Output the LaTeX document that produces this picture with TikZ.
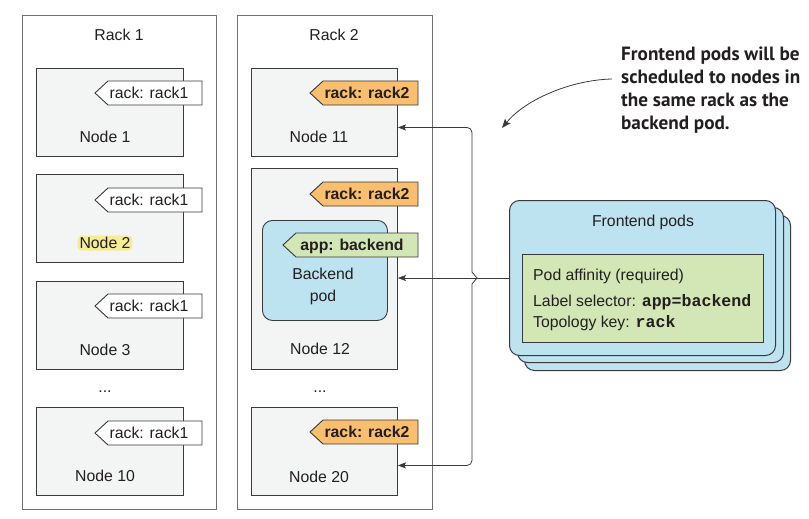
\documentclass[tikz,border=0pt]{standalone}
\usepackage{fontspec}
\setmainfont{Liberation Sans}
\setmonofont{Liberation Mono}
\newfontfamily\notefont{PT Sans}
\usetikzlibrary{arrows.meta}
\definecolor{nodefill}{HTML}{F3F4F4}
\definecolor{nodedraw}{HTML}{3A3A3A}
\definecolor{rackdraw}{HTML}{707070}
\definecolor{tagorange}{HTML}{F9BE6E}
\definecolor{taggreen}{HTML}{D3E6B5}
\definecolor{podblue}{HTML}{BDE2F0}
\definecolor{hlyellow}{HTML}{F5EC96}
\definecolor{txt}{HTML}{231F20}
\newcommand\codef{\fontsize{16.6}{18}\selectfont\ttfamily\bfseries}
\newcommand\tagat[7]{%
  \draw[#5] (#2,#4) -- ({#2+13},{#4-12}) -- (#3,{#4-12}) -- (#3,{#4+12}) -- ({#2+13},{#4+12}) -- cycle;
  \node[tagtext] (#1) at (#6,#4) {#7};}
\begin{document}
\begin{tikzpicture}[x=1pt,y=-1pt,
  font=\fontsize{15.8}{18}\selectfont, text=txt,
  rackbox/.style={draw=rackdraw, line width=0.9pt, fill=white, anchor=north west, inner sep=0},
  nodebox/.style={draw=nodedraw, line width=0.9pt, fill=nodefill, anchor=north west, inner sep=0},
  lbl/.style={inner sep=0, text height=11.4pt, text depth=0pt},
  tagtext/.style={inner sep=0, text height=11.4pt, text depth=0pt},
  whitetag/.style={draw=nodedraw, line width=0.9pt, fill=white},
  orangetag/.style={draw=nodedraw, line width=0.9pt, fill=tagorange},
  greentag/.style={draw=nodedraw, line width=0.9pt, fill=taggreen},
  podbox/.style={draw=nodedraw, line width=0.9pt, fill=podblue, rounded corners=10pt, anchor=north west, inner sep=0},
  card/.style={draw=nodedraw, line width=1pt, fill=podblue, rounded corners=10pt, anchor=north west, inner sep=0, minimum width=266pt, minimum height=155pt},
  conn/.style={draw=nodedraw, line width=0.8pt},
  arr/.style={conn, -{Stealth[length=8pt,width=6pt,inset=1.5pt]}}
]
\useasboundingbox (0,0) rectangle (809,519);

% racks
\node[rackbox, minimum width=194pt, minimum height=494pt] (rack1) at (22,15) {};
\node[rackbox, minimum width=195pt, minimum height=494pt] (rack2) at (237,15) {};
\node[lbl] (rack1l) at (119,35) {Rack 1};
\node[lbl] (rack2l) at (334,35) {Rack 2};

% rack 1 nodes
\node[nodebox, minimum width=147pt, minimum height=88pt] (n1) at (36,68) {};
\node[nodebox, minimum width=147pt, minimum height=88pt] (n2) at (36,174) {};
\node[nodebox, minimum width=147pt, minimum height=88pt] (n3) at (36,281) {};
\node[nodebox, minimum width=147pt, minimum height=88pt] (n10) at (36,407) {};
\node[lbl] (n1l) at (105,137) {Node 1};
\node[lbl, fill=hlyellow, rounded corners=4pt, inner xsep=2pt, inner ysep=1.8pt] (n2l) at (105,243) {Node 2};
\node[lbl] (n3l) at (105,350) {Node 3};
\node[lbl] (n10l) at (105,476) {Node 10};
\node[lbl] (dots1) at (105,387) {...};

\tagat{t1}{95}{202}{93}{whitetag}{149}{rack: rack1}
\tagat{t2}{95}{202}{200}{whitetag}{149}{rack: rack1}
\tagat{t3}{95}{202}{306}{whitetag}{149}{rack: rack1}
\tagat{t10}{95}{202}{433}{whitetag}{149}{rack: rack1}

% rack 2 nodes
\node[nodebox, minimum width=146pt, minimum height=88pt] (n11) at (251,68) {};
\node[nodebox, minimum width=146pt, minimum height=201pt] (n12) at (251,168) {};
\node[nodebox, minimum width=146pt, minimum height=88pt] (n20) at (251,407) {};
\node[lbl] (n11l) at (319,137) {Node 11};
\node[lbl] (n12l) at (320,349) {Node 12};
\node[lbl] (n20l) at (319,477) {Node 20};
\node[lbl] (dots2) at (320,387) {...};

\node[podbox, minimum width=125pt, minimum height=100pt] (bp) at (262,220) {};
\node[align=center, inner sep=0, font=\fontsize{15.8}{22}\selectfont] (bpl) at (323,286) {Backend\\pod};

\tagat{t11}{310}{418}{93}{orangetag}{367}{\bfseries rack: rack2}
\tagat{t12}{310}{418}{194}{orangetag}{367}{\bfseries rack: rack2}
\tagat{t20}{310}{418}{432}{orangetag}{367}{\bfseries rack: rack2}
\tagat{tapp}{283}{418}{245}{greentag}{352}{\bfseries app: backend}

% frontend pods
\node[card] (fp3) at (524,215) {};
\node[card] (fp2) at (517,207) {};
\node[card] (fp1) at (509,200) {};
\node[lbl] (fpl) at (643,221) {Frontend pods};
\node[draw=nodedraw, line width=0.9pt, fill=taggreen, anchor=north west, inner sep=0, minimum width=241pt, minimum height=88pt] (aff) at (522,254) {};
\node[anchor=base west, inner sep=0] (aff1) at (533,280) {Pod affinity (required)};
\node[anchor=base west, inner sep=0] (aff2) at (533,306) {Label selector: {\codef app=backend}};
\node[anchor=base west, inner sep=0] (aff3) at (533,327) {Topology key: {\codef rack}};

% connectors
\coordinate (bt) at (472,272);
\coordinate (bm) at (477,278);
\coordinate (bb) at (472,284);
\draw[conn] (bt) -- (bm) -- (bb);
\draw[arr] (fp1.west) -- (n12.east |- fp1.west);
\draw[arr, rounded corners=5pt] (bt) |- ([yshift=-15pt]n11.east);
\draw[arr, rounded corners=5pt] (bb) |- ([yshift=-14pt]n20.east);

% annotation
\node[anchor=north west, inner sep=0, align=left, font=\notefont\bfseries\fontsize{19.2}{23}\selectfont] (note) at (621,47) {Frontend pods will be\\scheduled to nodes in\\the same rack as the\\backend pod.};
\coordinate (ns) at (612,79);
\draw[conn, -{Stealth[length=9pt,width=7pt,inset=1.5pt]}] (ns) .. controls (570,80) and (525,100) .. (502,128);
\end{tikzpicture}
\end{document}
